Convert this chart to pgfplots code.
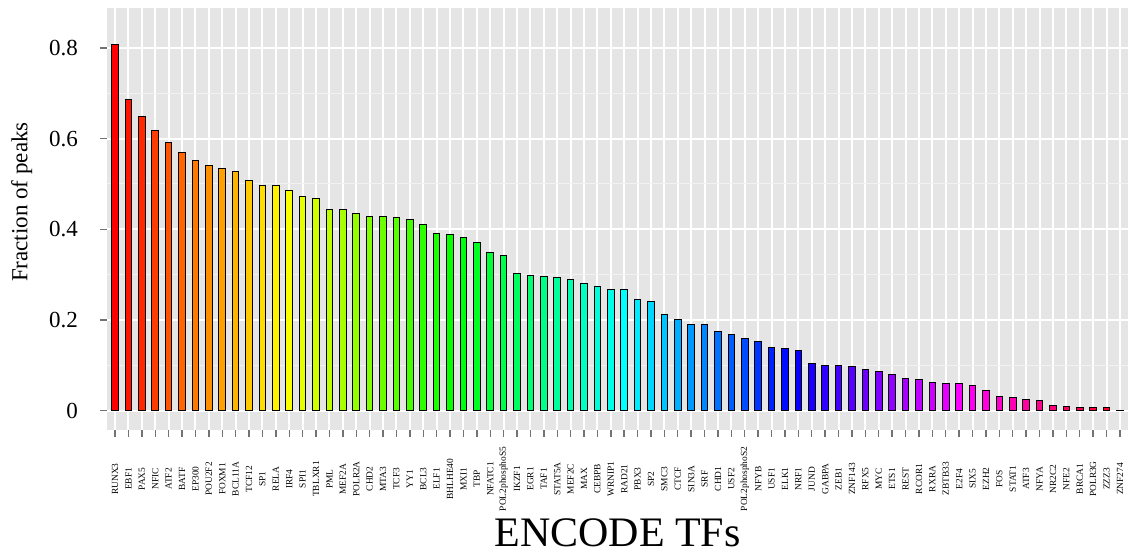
\documentclass[border=0pt]{standalone}
\usepackage{pgfplots}
\usepackage{pgfplotstable}
\pgfplotsset{compat=1.18}
\usepackage{fontspec}
\setmainfont{Liberation Serif}

\definecolor{panel}{RGB}{229,229,229}
\definecolor{minorgrid}{RGB}{242,242,242}

% fraction of peaks per TF, sorted
\pgfplotstableread{
tf frac
RUNX3 0.807
EBF1 0.686
PAX5 0.648
NFIC 0.617
ATF2 0.592
BATF 0.569
EP300 0.552
POU2F2 0.541
FOXM1 0.535
BCL11A 0.527
TCF12 0.507
SP1 0.497
RELA 0.496
IRF4 0.486
SPI1 0.472
TBLXR1 0.468
PML 0.444
MEF2A 0.443
POLR2A 0.435
CHD2 0.429
MTA3 0.429
TCF3 0.426
YY1 0.421
BCL3 0.410
ELF1 0.390
BHLHE40 0.388
MXI1 0.382
TBP 0.370
NFATC1 0.348
POL2phosphoS5 0.343
IKZF1 0.303
EGR1 0.298
TAF1 0.295
STAT5A 0.294
MEF2C 0.290
MAX 0.280
CEBPB 0.274
WRNIP1 0.267
RAD21 0.267
PBX3 0.246
SP2 0.241
SMC3 0.211
CTCF 0.201
SIN3A 0.190
SRF 0.189
CHD1 0.174
USF2 0.168
POL2phosphoS2 0.160
NFYB 0.152
USF1 0.139
ELK1 0.137
NRF1 0.133
JUND 0.103
GABPA 0.099
ZEB1 0.099
ZNF143 0.098
RFX5 0.091
MYC 0.086
ETS1 0.080
REST 0.071
RCOR1 0.069
RXRA 0.063
ZBTB33 0.061
E2F4 0.061
SIX5 0.055
EZH2 0.045
FOS 0.032
STAT1 0.029
ATF3 0.024
NFYA 0.023
NR2C2 0.011
NFE2 0.009
BRCA1 0.008
POLR3G 0.007
ZZZ3 0.007
ZNF274 0.001
}\peaks

% rainbow colours, one per bar (hsb -> rgb for pgf)
\pgfplotsinvokeforeach{0,...,75}{%
  \pgfmathsetmacro\hue{#1/76}%
  \edef\tmp{\noexpand\definecolor{tmphsb}{hsb}{\hue,1,1}}\tmp
  \colorlet{bar#1}[rgb]{tmphsb}%
}

\begin{document}
\begin{tikzpicture}
\begin{axis}[
  name=ax,
  scale only axis,
  width=510.5pt, height=211pt,
  xmin=-0.6, xmax=75.6,
  ymin=-0.0426, ymax=0.888,
  axis background/.style={fill=panel},
  axis line style={draw=none},
  tick pos=lower,
  tick align=outside,
  major tick length=3.5pt,
  minor tick length=0pt,
  tick style={draw=black!55, line width=0.7pt},
  xtick={0,...,75},
  xticklabels from table={\peaks}{tf},
  xticklabel style={font=\fontsize{4.7}{5}\selectfont, yshift=-21pt, rotate=90, anchor=center},
  ytick={0,0.2,0.4,0.6,0.8},
  yticklabels={0,0.2,0.4,0.6,0.8},
  yticklabel style={font=\fontsize{11.5}{13}\selectfont, xshift=-7.5pt},
  minor ytick={0.1,0.3,0.5,0.7},
  xmajorgrids, ymajorgrids, yminorgrids,
  major grid style={white, line width=1pt},
  minor grid style={minorgrid, line width=0.5pt},
  xlabel={ENCODE TFs},
  ylabel={Fraction of peaks},
  every axis x label/.style={at={(axis description cs:0.5,-0.243)}, anchor=center, font=\fontsize{21}{24}\selectfont},
  every axis y label/.style={at={(axis description cs:-0.0835,0.54)}, rotate=90, anchor=center, font=\fontsize{11.5}{13}\selectfont},
]
\pgfplotsinvokeforeach{0,...,75}{
  \addplot[ybar, bar shift=0pt, bar width=0.5, draw=black, line width=0.5pt, fill=bar#1,
    restrict x to domain=#1:#1] table[x expr=\coordindex, y=frac] {\peaks};
}
\end{axis}
\pgfresetboundingbox
\path[use as bounding box] ([xshift=-53.5pt,yshift=-62.5pt]ax.south west) rectangle ([yshift=4pt]ax.north east);
\end{tikzpicture}
\end{document}
